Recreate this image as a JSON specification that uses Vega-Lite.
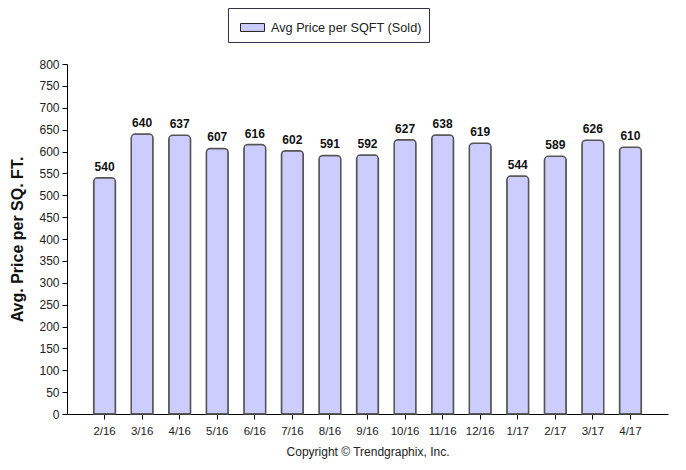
{
  "$schema": "https://vega.github.io/schema/vega-lite/v6.json",
  "autosize": "none",
  "width": 601,
  "height": 350,
  "padding": {"left": 67, "top": 64, "right": 18, "bottom": 56},
  "background": "white",
  "config": {
    "view": {"stroke": null},
    "font": "Liberation Sans",
    "axis": {"labelFont": "Liberation Sans", "titleFont": "Liberation Sans", "domainColor": "#000", "tickColor": "#000", "labelColor": "#222", "grid": false}
  },
  "data": {
    "values": [
      {"month": "2/16", "price": 540, "series": "Avg Price per SQFT (Sold)"},
      {"month": "3/16", "price": 640, "series": "Avg Price per SQFT (Sold)"},
      {"month": "4/16", "price": 637, "series": "Avg Price per SQFT (Sold)"},
      {"month": "5/16", "price": 607, "series": "Avg Price per SQFT (Sold)"},
      {"month": "6/16", "price": 616, "series": "Avg Price per SQFT (Sold)"},
      {"month": "7/16", "price": 602, "series": "Avg Price per SQFT (Sold)"},
      {"month": "8/16", "price": 591, "series": "Avg Price per SQFT (Sold)"},
      {"month": "9/16", "price": 592, "series": "Avg Price per SQFT (Sold)"},
      {"month": "10/16", "price": 627, "series": "Avg Price per SQFT (Sold)"},
      {"month": "11/16", "price": 638, "series": "Avg Price per SQFT (Sold)"},
      {"month": "12/16", "price": 619, "series": "Avg Price per SQFT (Sold)"},
      {"month": "1/17", "price": 544, "series": "Avg Price per SQFT (Sold)"},
      {"month": "2/17", "price": 589, "series": "Avg Price per SQFT (Sold)"},
      {"month": "3/17", "price": 626, "series": "Avg Price per SQFT (Sold)"},
      {"month": "4/17", "price": 610, "series": "Avg Price per SQFT (Sold)"}
    ]
  },
  "encoding": {
    "x": {
      "field": "month", "type": "ordinal", "sort": null,
      "scale": {"paddingInner": 0.42, "paddingOuter": 0.71},
      "axis": {
        "title": "Copyright © Trendgraphix, Inc.",
        "titleFontWeight": "normal", "titleFontSize": 12, "titleColor": "#222",
        "titlePadding": 10,
        "labelAngle": 0, "labelFontSize": 11.5, "labelPadding": 6, "tickSize": 5
      }
    },
    "y": {
      "field": "price", "type": "quantitative",
      "scale": {"domain": [0, 800]},
      "axis": {
        "title": "Avg. Price per SQ. FT.", "titleFontSize": 16, "titleFontWeight": "bold",
        "titleColor": "#111", "titlePadding": 13,
        "values": [0,50,100,150,200,250,300,350,400,450,500,550,600,650,700,750,800],
        "labelFontSize": 12, "tickSize": 5, "labelPadding": 3
      }
    }
  },
  "layer": [
    {
      "mark": {"type": "bar", "stroke": "#555", "strokeWidth": 1.5, "cornerRadiusTopLeft": 4, "cornerRadiusTopRight": 4},
      "encoding": {
        "color": {
          "field": "series", "type": "nominal",
          "scale": {"range": ["#ccccff"]},
          "legend": {
            "title": null, "orient": "none", "legendX": 161, "legendY": -56,
            "fillColor": "white", "strokeColor": "#33334d", "padding": 7,
            "symbolType": "M-1,-0.33H1V0.33H-1Z", "symbolSize": 576,
            "symbolStrokeColor": "#222", "symbolStrokeWidth": 1,
            "labelFontSize": 12.7, "labelFont": "Liberation Sans", "labelColor": "#222",
            "labelOffset": 6, "symbolOffset": 5
          }
        }
      }
    },
    {
      "mark": {"type": "text", "dy": -11, "fontWeight": "bold", "fontSize": 12, "color": "#111"},
      "encoding": {"text": {"field": "price", "type": "quantitative"}}
    }
  ]
}
